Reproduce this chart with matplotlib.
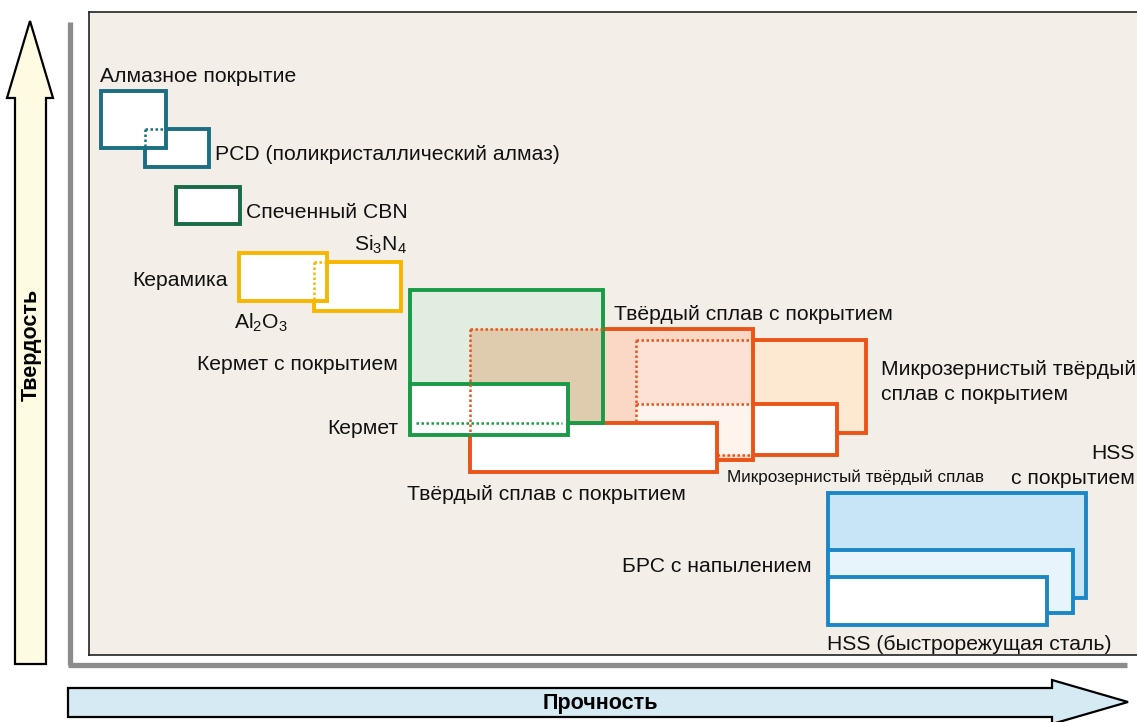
import matplotlib.pyplot as plt
from matplotlib.patches import Rectangle, Polygon

plt.rcParams['font.family'] = ['Liberation Sans', 'DejaVu Sans']

# Tool-material ranges: strength (x, 0-100) and hardness (y, 0-100)
names = ['diamond', 'pcd', 'cbn', 'al2o3', 'si3n4', 'coated_cermet', 'cermet',
         'coated_carbide', 'carbide', 'micro_coated', 'micro_carbide',
         'hss_coated', 'brs', 'hss']
strength_lo = [1.15, 5.34, 8.30, 14.31, 21.47, 30.63, 30.63,
               36.36, 36.36, 52.20, 52.20, 70.5, 70.5, 70.5]
strength_hi = [7.35, 11.45, 14.41, 22.71, 29.77, 49.05, 45.71,
               63.36, 59.92, 74.10, 71.40, 95.1, 93.9, 91.4]
hardness_lo = [78.8, 75.9, 67.0, 55.1, 53.5, 36.1, 34.2,
               30.3, 28.5, 34.5, 31.1, 8.9, 6.5, 4.7]
hardness_hi = [87.7, 81.8, 72.8, 62.5, 61.1, 56.8, 42.1,
               50.7, 36.1, 49.0, 39.0, 25.2, 16.3, 12.1]

B = {n: (x0, x1, y0, y1) for n, x0, x1, y0, y1 in
     zip(names, strength_lo, strength_hi, hardness_lo, hardness_hi)}

teal, dkgreen, yellow = '#1b6f80', '#1a6c47', '#f8b600'
green, orange, blue = '#1a9a47', '#eb5418', '#1b87c9'
LW = 2.8

fig = plt.figure(figsize=(11.37, 7.22), dpi=100)

# background layer: axis arrows (pixel coordinates)
bg = fig.add_axes([0, 0, 1, 1], zorder=0)
bg.set_xlim(0, 1137)
bg.set_ylim(722, 0)
bg.axis('off')
bg.add_patch(Polygon([(15, 664), (15, 98), (7, 98), (30, 21), (53, 98), (46, 98), (46, 664)],
                     closed=True, fc='#fffbe2', ec='black', lw=1.6))
bg.add_patch(Polygon([(68, 717), (68, 688), (1052, 688), (1052, 680), (1128, 702),
                      (1052, 724), (1052, 717)],
                     closed=True, fc='#d5eaf2', ec='black', lw=1.6, clip_on=False))
bg.plot([69.5, 69.5], [22, 665], color='#8c8c8c', lw=3.8, solid_capstyle='butt')
bg.plot([67.6, 1127], [665, 665], color='#8c8c8c', lw=3.8, solid_capstyle='butt')

# main panel
ax = fig.add_axes([89 / 1137, (722 - 655) / 722, (1137 - 89) / 1137, (655 - 12) / 722], zorder=1)
ax.set_xlim(0, 100)
ax.set_ylim(0, 100)
ax.set_facecolor('#f3efe8')
ax.set_xticks([])
ax.set_yticks([])
ax.spines['right'].set_visible(False)
for s in ['top', 'left', 'bottom']:
    ax.spines[s].set_linewidth(1.2)
    ax.spines[s].set_color('#222222')


def box(name, fc, ec, z, lw=LW, edge=True):
    x0, x1, y0, y1 = B[name]
    ax.add_patch(Rectangle((x0, y0), x1 - x0, y1 - y0, fc=fc,
                           ec=ec if edge else 'none', lw=lw, zorder=z))


def outline(name, ec, z):
    x0, x1, y0, y1 = B[name]
    ax.add_patch(Rectangle((x0, y0), x1 - x0, y1 - y0, fc='none', ec=ec, lw=LW, zorder=z))


def overlap(a, b, fc, z):
    ax0, ax1, ay0, ay1 = B[a]
    bx0, bx1, by0, by1 = B[b]
    x0, x1, y0, y1 = max(ax0, bx0), min(ax1, bx1), max(ay0, by0), min(ay1, by1)
    ax.add_patch(Rectangle((x0, y0), x1 - x0, y1 - y0, fc=fc, ec='none', zorder=z))


def dotted(xs, ys, color, z):
    ax.plot(xs, ys, color=color, lw=1.8, ls=(0, (1, 1)), zorder=z)


# diamond / PCD
box('pcd', 'white', teal, 2)
box('diamond', 'white', teal, 2.1)
dotted([B['pcd'][0], B['diamond'][1]], [B['pcd'][3]] * 2, teal, 2.2)
dotted([B['pcd'][0]] * 2, [B['pcd'][3], B['diamond'][2]], teal, 2.2)

# CBN
box('cbn', 'white', dkgreen, 2)

# ceramics
box('si3n4', 'white', yellow, 2)
box('al2o3', 'white', yellow, 2.1)
dotted([B['si3n4'][0], B['al2o3'][1]], [B['si3n4'][3]] * 2, yellow, 2.2)
dotted([B['si3n4'][0]] * 2, [B['si3n4'][3], B['al2o3'][2]], yellow, 2.2)

# micro-grain carbides and carbides
box('micro_coated', '#fde9d2', orange, 2)
box('micro_carbide', 'white', orange, 2.1)
box('coated_carbide', '#fbd8c6', orange, 3, edge=False)
overlap('micro_coated', 'coated_carbide', '#fde1d5', 3.1)
overlap('micro_carbide', 'coated_carbide', '#fff3ee', 3.2)
dotted([B['micro_coated'][0], B['coated_carbide'][1]], [B['micro_coated'][3]] * 2, orange, 3.3)
dotted([B['micro_coated'][0]] * 2, [B['micro_coated'][3], B['micro_carbide'][3]], orange, 3.3)
dotted([B['micro_carbide'][0], B['coated_carbide'][1]], [B['micro_carbide'][3]] * 2, orange, 3.3)
dotted([B['micro_carbide'][0]] * 2, [B['micro_carbide'][3], B['carbide'][3]], orange, 3.3)
dotted([B['carbide'][1], B['coated_carbide'][1]], [B['micro_carbide'][2]] * 2, orange, 3.3)
outline('coated_carbide', orange, 3.4)
box('carbide', 'white', orange, 3.5)

# cermets
box('coated_cermet', '#e1ede0', green, 4, edge=False)
overlap('coated_cermet', 'coated_carbide', '#dfcbad', 4.1)
outline('coated_cermet', green, 4.2)
box('cermet', 'white', green, 5)
dotted([B['cermet'][0] + 0.6, B['cermet'][1] - 0.6], [B['coated_cermet'][2]] * 2, green, 6)
dotted([B['coated_carbide'][0], B['coated_cermet'][1]], [B['coated_carbide'][3]] * 2, orange, 6)
dotted([B['coated_carbide'][0]] * 2, [B['coated_carbide'][3], B['cermet'][2]], orange, 6)

# HSS family
box('hss_coated', '#c8e5f7', blue, 2)
box('brs', '#e7f4fb', blue, 2.1)
box('hss', 'white', blue, 2.2)

# text layer (pixel coordinates)
tx = fig.add_axes([0, 0, 1, 1], zorder=2)
tx.set_xlim(0, 1137)
tx.set_ylim(722, 0)
tx.axis('off')
fs = 15.2
kw = dict(fontsize=fs, va='center', color='#111111')
tx.text(100, 77, 'Алмазное покрытие', ha='left', **kw)
tx.text(215, 155, 'PCD (поликристаллический алмаз)', ha='left', **kw)
tx.text(246, 213, 'Спеченный CBN', ha='left', **kw)
tx.text(354, 245, 'Si$_\\mathregular{3}$N$_\\mathregular{4}$', ha='left', **kw)
tx.text(228, 280, 'Керамика', ha='right', **kw)
tx.text(234, 323, 'Al$_\\mathregular{2}$O$_\\mathregular{3}$', ha='left', **kw)
tx.text(398, 364, 'Кермет с покрытием', ha='right', **kw)
tx.text(398, 428, 'Кермет', ha='right', **kw)
tx.text(614, 314, 'Твёрдый сплав с покрытием', ha='left', **kw)
tx.text(407, 495, 'Твёрдый сплав с покрытием', ha='left', **kw)
tx.text(881, 382, 'Микрозернистый твёрдый\nсплав с покрытием', ha='left',
        linespacing=1.35, **kw)
tx.text(727, 477, 'Микрозернистый твёрдый сплав', ha='left', fontsize=12.3,
        va='center', color='#111111')
tx.text(1135, 466, 'HSS\nс покрытием', ha='right', linespacing=1.35, **kw)
tx.text(812, 567, 'БРС с напылением', ha='right', **kw)
tx.text(827, 644, 'HSS (быстрорежущая сталь)', ha='left', **kw)
tx.text(600, 703, 'Прочность', ha='center', va='center', fontsize=15.5, fontweight='bold')
tx.text(31, 345, 'Твердость', ha='center', va='center', fontsize=15.5, fontweight='bold',
        rotation=90)

fig.savefig('out.png', dpi=100)
